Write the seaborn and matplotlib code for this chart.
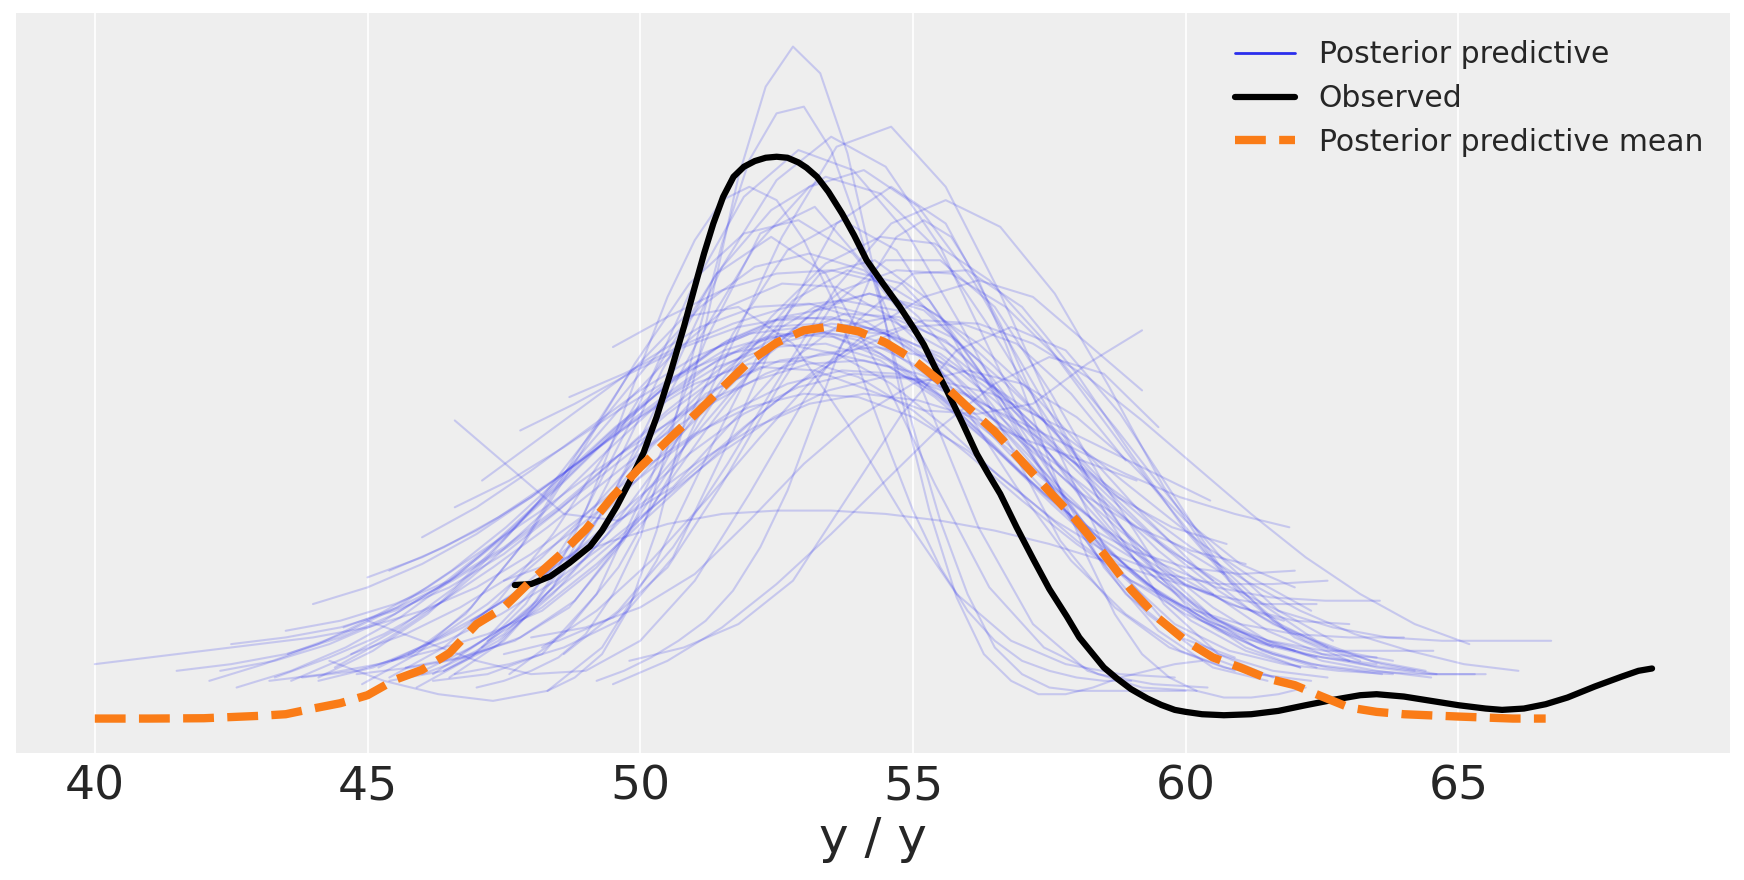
import pandas as pd
import matplotlib.pyplot as plt
import seaborn as sns
from matplotlib.lines import Line2D

# Estilo parecido com arviz-darkgrid
sns.set_theme(style="darkgrid", rc={
    'axes.facecolor': '#eeeeee',
    'grid.color': 'white',
    'grid.linewidth': 1.2,
    'axes.spines.left': False,
    'axes.spines.right': False,
    'axes.spines.top': False,
    'axes.spines.bottom': False,
})
plt.rcParams['font.family'] = ['DejaVu Sans']

obs_x = [47.7, 48.0, 48.35, 48.7, 49.08, 49.3, 49.57, 49.8, 50.06, 50.3,
         50.55, 50.8, 51.0, 51.17, 51.34, 51.52, 51.71, 51.9, 52.1, 52.3,
         52.5, 52.7, 52.9, 53.05, 53.24, 53.45, 53.7, 53.92, 54.15, 54.45,
         54.76, 55.0, 55.2, 55.4, 55.62, 55.9, 56.17, 56.38, 56.6, 56.9,
         57.21, 57.5, 57.82, 58.05, 58.3, 58.5, 58.74, 59.0, 59.3, 59.55,
         59.8, 60.0, 60.3, 60.7, 61.2, 61.7, 62.2, 62.7, 63.2, 63.5,
         64.0, 64.5, 65.0, 65.5, 65.8, 66.2, 66.6, 67.0, 67.5, 68.0,
         68.3, 68.55]
obs_y = [40.7, 41.0, 43.3, 47.3, 52.3, 57.0, 64.3, 71.5, 80.3, 91.0,
         104.0, 118.0, 130.0, 140.0, 149.0, 157.0, 163.0, 166.0, 167.7, 168.7,
         169.0, 168.7, 167.3, 165.7, 163.0, 158.5, 152.0, 145.5, 138.0, 131.0,
         124.0, 118.0, 112.7, 106.0, 99.0, 89.5, 80.0, 74.0, 68.0, 58.0,
         48.3, 39.5, 31.3, 25.0, 20.0, 16.0, 12.7, 9.5, 6.7, 4.8,
         3.3, 2.7, 2.0, 1.7, 2.0, 3.0, 4.7, 6.3, 7.7, 8.0,
         7.3, 6.0, 4.7, 3.7, 3.3, 3.7, 5.0, 7.0, 10.3, 13.3,
         15.0, 15.7]

# Média da preditiva a posteriori
mean_x = [40, 41, 42, 43, 43.5, 44, 44.5, 45, 45.5, 46, 46.5, 47, 47.5, 48, 48.5, 49,
          49.5, 50, 50.5, 51, 51.5, 52, 52.5, 53, 53.5, 54, 54.5, 55, 55.5, 56, 56.5,
          57, 57.5, 58, 58.5, 59, 59.5, 60, 60.5, 61, 61.5, 62, 62.5, 63, 63.5, 64,
          65, 66, 66.6]
mean_y = [0.7, 0.7, 0.8, 1.5, 2.0, 3.7, 5.3, 7.7, 12.3, 15.3, 20.3, 29.0, 34.0, 42.0,
          49.3, 57.3, 67.3, 76.0, 84.0, 91.7, 99.7, 107.7, 113.3, 117.0, 118.2, 116.7,
          113.3, 108.3, 101.7, 94.0, 86.7, 77.7, 68.7, 60.0, 50.0, 39.3, 30.7, 24.0,
          19.0, 16.0, 12.7, 10.7, 7.3, 4.0, 2.7, 2.0, 1.3, 0.7, 0.7]

# Curvas da preditiva: início, passo em x e valores lidos
ppc_start = [48.3, 47.0, 47.6, 46.5, 45.9, 48.6, 47.1, 45.4, 44.9, 46.4,
             44.1, 46.7, 43.6, 45.2, 42.6, 47.2, 44.4, 43.3, 42.1, 48.2,
             46.2, 49.5, 45.9, 44.1, 45.45, 46.9, 45.75, 47.1, 46.0, 46.6,
             45.4, 44.56, 45.0, 44.0, 43.54, 40.0, 44.7, 41.5, 42.3, 42.5,
             43.5, 46.6, 47.8, 48.7, 49.5, 47.5, 44.3, 45.0, 49.2, 46.0,
             46.6, 45.7, 47.5, 45.4, 49.8, 43.8, 44.8, 48.0, 46.2, 43.2]
ppc_step = [0.5, 0.5, 1, 1, 1, 1, 1, 1, 1, 1,
            1, 1, 1, 1, 1, 1, 1, 1, 1, 1,
            1, 1, 1, 1, 1, 1, 1, 1, 1, 1,
            1, 1, 1, 1, 1, 1, 1, 1, 1, 1,
            1, 1, 1, 1, 1, 1, 1, 1, 0.5, 0.5,
            1, 1, 1, 1, 1, 1, 1, 1, 1, 1]
ppc_values = [
    [9, 13, 20, 34, 57, 89, 126, 163, 190, 202, 194, 170, 134, 96, 63, 37, 20, 12, 8, 8, 10, 13, 15, 17, 18],
    [10, 12, 15, 19, 26, 38, 55, 82, 112, 143, 168, 182, 184, 171, 148, 119, 88, 60, 38, 22, 14, 10, 9, 9, 9, 9, 9],
    [14, 26, 46, 75, 110, 145, 172, 178, 160, 128, 92, 60, 35, 20, 13],
    [13, 24, 42, 68, 101, 136, 162, 175, 166, 142, 108, 75, 46, 27, 16, 12],
    [10, 19, 35, 60, 92, 128, 157, 171, 165, 146, 118, 88, 60, 38, 25, 19],
    [20, 33, 52, 77, 104, 130, 149, 156, 148, 128, 100, 70, 46, 30, 22],
    [22, 36, 57, 85, 115, 142, 160, 165, 154, 132, 104, 76, 51, 33, 22, 16],
    [13, 22, 36, 56, 81, 108, 134, 153, 163, 158, 142, 118, 92, 67, 46, 31, 21, 16],
    [11, 20, 34, 54, 80, 107, 131, 146, 150, 140, 120, 95, 70, 48, 32, 21, 15],
    [15, 24, 38, 56, 78, 100, 121, 137, 145, 143, 132, 114, 92, 70, 50, 35, 24, 18, 15],
    [13, 21, 32, 47, 65, 86, 106, 124, 136, 140, 135, 121, 102, 81, 60, 43, 30, 21, 16],
    [20, 30, 44, 61, 80, 99, 116, 129, 135, 134, 124, 108, 88, 67, 48, 33, 24],
    [12, 19, 28, 40, 56, 74, 93, 110, 124, 131, 130, 121, 106, 88, 69, 51, 37, 27, 20, 16, 14],
    [16, 24, 35, 49, 65, 83, 100, 114, 124, 128, 124, 113, 98, 80, 62, 46, 33, 24, 18],
    [10, 15, 22, 31, 43, 57, 72, 88, 102, 114, 121, 124, 120, 111, 98, 83, 67, 52, 39, 29, 22, 17, 14],
    [24, 34, 47, 62, 77, 92, 105, 115, 120, 119, 113, 103, 90, 76, 62, 49, 38, 29, 23],
    [16, 25, 36, 50, 65, 81, 96, 108, 115, 116, 110, 99, 84, 68, 53, 40, 30, 23, 19],
    [13, 19, 26, 35, 46, 58, 71, 84, 95, 104, 110, 112, 109, 102, 91, 79, 66, 53, 42, 33],
    [12, 17, 23, 31, 40, 51, 62, 74, 85, 95, 102, 107, 108, 104, 97, 87, 76, 64, 52, 42, 33, 26, 21, 17, 15],
    [22, 33, 48, 66, 85, 103, 117, 127, 132, 127, 113, 99],
    [14, 25, 42, 62, 82, 98, 106, 105, 99, 93, 92, 95, 107, 117],
    [11, 18, 28, 41, 56, 72, 88, 101, 109, 104, 88],
    [14, 22, 32, 45, 59, 74, 88, 101, 111, 118, 119, 113, 98, 78],
    [12, 16, 23, 32, 42, 54, 66, 78, 88, 95, 98, 96, 91, 84, 78, 72],
    [18, 24, 32, 42, 54, 67, 80, 91, 99, 103, 102, 98, 90, 82, 74, 66],
    [30, 40, 52, 66, 80, 92, 100, 104, 103, 98, 90, 82, 74, 67, 62, 58],
    [20, 28, 39, 53, 69, 86, 102, 115, 122, 121, 112, 96, 80, 67, 58, 53],
    [72, 84, 96, 108, 118, 124, 125, 120, 110, 96, 82, 68, 58, 51, 47],
    [55, 64, 75, 87, 99, 109, 116, 118, 114, 104, 90, 74, 60, 51, 46, 44, 45],
    [64, 72, 82, 93, 103, 110, 113, 110, 101, 88, 73, 60, 50, 44, 41, 41, 42],
    [45, 52, 61, 72, 84, 96, 106, 112, 113, 108, 97, 83, 68, 55, 45, 38, 35, 35],
    [28, 34, 42, 52, 64, 77, 90, 101, 108, 110, 106, 97, 84, 70, 57, 47, 40, 37, 36, 36],
    [43, 49, 57, 67, 79, 92, 104, 113, 117, 115, 107, 94, 79, 64, 51, 41, 34, 30, 29],
    [35, 40, 47, 56, 67, 79, 91, 101, 107, 108, 103, 93, 80, 66, 53, 42, 34, 29, 26, 25, 25],
    [20, 26, 34, 45, 58, 73, 88, 101, 111, 116, 115, 108, 96, 81, 65, 50, 38, 29, 24, 21, 21, 21],
    [17, 19, 21, 23, 25, 28, 33, 40, 50, 62, 75, 86, 94, 98, 97, 91, 81, 68, 54, 42, 32, 25, 21],
    [20, 26, 34, 44, 56, 69, 82, 93, 101, 105, 104, 98, 88, 76, 63, 51, 41, 33, 28, 25, 24, 24, 24],
    [15, 17, 20, 25, 32, 42, 55, 70, 86, 101, 113, 120, 121, 116, 105, 90, 73, 57, 42, 31, 24, 20, 19],
    [15, 18, 23, 30, 40, 53, 68, 84, 99, 111, 118, 119, 114, 103, 88, 71, 55, 41, 30, 22, 17, 15, 14, 14],
    [23, 25, 28, 33, 40, 50, 63, 78, 93, 106, 115, 119, 117, 109, 96, 80, 63, 47, 34, 24, 18, 15, 13],
    [27, 30, 35, 42, 52, 64, 78, 92, 104, 113, 117, 116, 110, 98, 83, 67, 51, 38, 27, 20, 16, 14, 14],
    [90, 76, 62, 60, 70, 88, 106, 118, 121, 114, 98, 78, 58, 42, 30, 22],
    [87, 95, 104, 112, 118, 121, 120, 114, 103, 88, 72, 57, 44, 35, 30],
    [97, 104, 112, 119, 124, 126, 123, 115, 101, 85, 68, 54, 44],
    [112, 121, 129, 134, 135, 131, 121, 106, 88, 70, 54, 42],
    [42, 48, 54, 59, 62, 63, 63, 62, 60, 57, 53, 48, 43, 38],
    [18, 12, 8, 6, 9, 22, 48, 82, 114, 134, 138, 126, 103, 76, 51, 32, 20, 14, 12],
    [30, 24, 18, 14, 15, 24, 42, 68, 96, 120, 134, 135, 124, 104, 80, 57, 38, 25, 18],
    [12, 15, 19, 24, 30, 39, 52, 69, 91, 113, 132, 145, 150, 145, 132, 113, 91, 69, 49, 32, 20, 13, 9, 7, 7, 8, 10],
    [14, 17, 21, 26, 34, 46, 63, 84, 106, 127, 144, 156, 160, 156, 144, 127, 106, 84, 63, 46, 33, 24, 18, 15, 13, 12, 12],
    [14, 17, 22, 30, 49, 83, 119, 149, 160, 149, 119, 83, 49, 30, 20, 15, 13],
    [16, 19, 24, 34, 54, 85, 116, 141, 150, 141, 116, 85, 54, 34, 22, 16, 13],
    [20, 24, 31, 46, 71, 99, 124, 138, 138, 124, 99, 71, 46, 31, 23, 19, 17],
    [12, 15, 23, 40, 71, 105, 134, 145, 134, 105, 71, 40, 22, 14, 11, 10],
    [18, 22, 29, 42, 67, 92, 111, 118, 111, 92, 67, 42, 28, 21, 18],
    [13, 15, 20, 32, 52, 79, 104, 121, 124, 113, 89, 62, 38, 24, 17, 14, 13],
    [14, 16, 19, 25, 36, 57, 82, 107, 126, 135, 131, 114, 92, 67, 44, 29, 21, 17, 15, 14],
    [25, 28, 34, 44, 60, 77, 91, 101, 105, 101, 91, 77, 60, 47, 40],
    [12, 14, 20, 38, 73, 114, 146, 154, 135, 98, 58, 29, 15, 10, 9],
    [12, 14, 17, 21, 26, 33, 46, 64, 87, 108, 123, 128, 123, 108, 87, 64, 46, 33, 25, 20, 17, 15],
]

x_ticks = [40, 45, 50, 55, 60, 65]

# Tabela longa para o seaborn
rows = []
for i, (x0, dx, vals) in enumerate(zip(ppc_start, ppc_step, ppc_values)):
    for j, v in enumerate(vals):
        rows.append({'draw': i, 'x': x0 + j * dx, 'y': v})
ppc_df = pd.DataFrame(rows)

blue = '#2a2eec'
orange = '#fa7c17'

fig, ax = plt.subplots(figsize=(17.44, 8.8), dpi=100)
fig.subplots_adjust(left=0.009, right=0.992, top=0.985, bottom=0.144)

sns.lineplot(data=ppc_df, x='x', y='y', units='draw', estimator=None,
             color=blue, alpha=0.2, linewidth=1.5, legend=False, ax=ax)
sns.lineplot(x=obs_x, y=obs_y, color='black', linewidth=4.5, ax=ax)
sns.lineplot(x=mean_x, y=mean_y, color=orange, linewidth=6, linestyle='--', ax=ax)

ax.set_xlim(38.55, 69.98)
ax.set_ylim(-9.7, 212)
ax.set_xticks(x_ticks)
ax.set_yticks([])
ax.grid(axis='y', visible=False)
ax.tick_params(axis='x', labelsize=34, length=0, pad=8, labelcolor='#262626')
ax.set_xlabel('y / y', fontsize=36, color='#262626')
ax.set_ylabel('')

handles = [
    Line2D([], [], color=blue, linewidth=2),
    Line2D([], [], color='black', linewidth=4.5),
    Line2D([], [], color=orange, linewidth=6, linestyle='--'),
]
labels = ['Posterior predictive', 'Observed', 'Posterior predictive mean']
leg = ax.legend(handles, labels, loc='upper right', fontsize=21.5, frameon=False)
for t in leg.get_texts():
    t.set_color('#262626')

plt.savefig('out.png', dpi=100)
